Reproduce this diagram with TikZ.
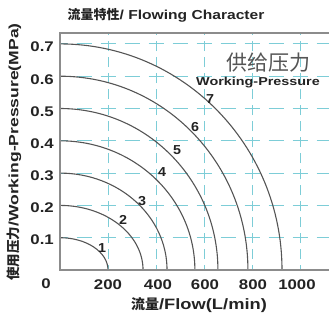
\documentclass[tikz,border=0pt]{standalone}
\usepackage{fontspec}
\setmainfont{Liberation Sans}
\newfontfamily\cjk{Noto Sans CJK SC}
\usetikzlibrary{positioning}
\definecolor{gridcyan}{RGB}{125,205,215}
\definecolor{framegray}{RGB}{140,140,140}
\definecolor{curvegray}{RGB}{85,85,85}
\definecolor{textgray}{RGB}{35,35,35}
\newcommand{\wide}[2]{\fontsize{#1}{#1}\selectfont\addfontfeature{FakeStretch=#2}}

\begin{document}
\begin{tikzpicture}[x=1pt,y=-1pt,
    grid h/.style={gridcyan,line width=0.9pt,dash pattern=on 15pt off 9pt,dash phase=7.5pt},
    grid v/.style={gridcyan,line width=0.9pt,dash pattern=on 10pt off 6pt,dash phase=5pt},
    curve line/.style={curvegray,line width=1.1pt},
    tick label/.style={text=textgray,inner sep=0pt,font=\wide{14}{1.2}\bfseries},
    curve label/.style={text=textgray,inner sep=0pt,font=\wide{13}{1.1}\bfseries}]
  \useasboundingbox (0,0) rectangle (329,322);
  % axes frame
  \coordinate (tr) at (330,33);
  \coordinate (tl) at (60,33);
  \coordinate (bl) at (60,270);
  \coordinate (br) at (330,270);
  \begin{scope}[shift={(60,270)},x=0.24pt,y=323pt]
    % grid
    \draw[grid v] (200,0) -- (200,0.734);
    \draw[grid v] (400,0) -- (400,0.734);
    \draw[grid v] (600,0) -- (600,0.734);
    \draw[grid v] (800,0) -- (800,0.734);
    \draw[grid v] (1000,0) -- (1000,0.734);
    \draw[grid h] (0,0.1) -- (1125,0.1);
    \draw[grid h] (0,0.2) -- (1125,0.2);
    \draw[grid h] (0,0.3) -- (1125,0.3);
    \draw[grid h] (0,0.4) -- (1125,0.4);
    \draw[grid h] (0,0.5) -- (1125,0.5);
    \draw[grid h] (0,0.6) -- (1125,0.6);
    \draw[grid h] (0,0.7) -- (1125,0.7);
    % flow curves
    \draw[curve line] (0,0.1) arc[start angle=90,end angle=0,x radius=200,y radius=0.1];
    \draw[curve line] (0,0.2) arc[start angle=90,end angle=0,x radius=346,y radius=0.2];
    \draw[curve line] (0,0.3) arc[start angle=90,end angle=0,x radius=446,y radius=0.3];
    \draw[curve line] (0,0.4) arc[start angle=90,end angle=0,x radius=562,y radius=0.4];
    \draw[curve line] (0,0.5) arc[start angle=90,end angle=0,x radius=658,y radius=0.5];
    \draw[curve line] (0,0.6) arc[start angle=90,end angle=0,x radius=783,y radius=0.6];
    \draw[curve line] (0,0.7) arc[start angle=90,end angle=0,x radius=925,y radius=0.7];
  \end{scope}
  \draw[framegray,line width=1.3pt] (tr) -- (tl) -- (bl) -- (br);

  \node[curve label] (c1) at (102,248) {1};
  \node[curve label] (c2) at (123,220) {2};
  \node[curve label] (c3) at (142,201) {3};
  \node[curve label] (c4) at (162,172) {4};
  \node[curve label] (c5) at (177,150) {5};
  \node[curve label] (c6) at (195,127) {6};
  \node[curve label] (c7) at (210,99) {7};

  \node[tick label,anchor=east] (y7) at (54,47) {0.7};
  \node[tick label,anchor=east] (y6) at (54,80) {0.6};
  \node[tick label,anchor=east] (y5) at (54,112) {0.5};
  \node[tick label,anchor=east] (y4) at (54,144) {0.4};
  \node[tick label,anchor=east] (y3) at (54,176) {0.3};
  \node[tick label,anchor=east] (y2) at (54,208) {0.2};
  \node[tick label,anchor=east] (y1) at (54,240) {0.1};
  \node[tick label] (y0) at (46,284) {0};
  \node[tick label] (x2) at (108,285) {200};
  \node[tick label] (x4) at (158,285) {400};
  \node[tick label] (x6) at (205,285) {600};
  \node[tick label] (x8) at (253,285) {800};
  \node[tick label] (x10) at (297,285) {1000};

  \node[text=textgray,inner sep=0pt] (title) at (166,15)
    {{\cjk\fontsize{13}{13}\selectfont\bfseries 流量特性}{\wide{13}{1.2}\bfseries / Flowing Character}};
  \node[text=textgray,inner sep=0pt] (xname) at (199,305)
    {{\cjk\fontsize{14}{14}\selectfont\bfseries 流量}{\wide{15}{1.22}\bfseries /Flow(L/min)}};
  \node[text=textgray,inner sep=0pt,rotate=90] (yname) at (14,152)
    {{\cjk\fontsize{13.5}{13.5}\selectfont\bfseries 使用压力}{\wide{13.5}{1.3}\bfseries /Working-Pressure(MPa)}};
  \node[text=curvegray,inner sep=0pt] (supply) at (268,63)
    {\cjk\fontsize{21}{21}\selectfont 供给压力};
  \node[text=textgray,inner sep=0pt] (wp) at (258,83)
    {\wide{11.5}{1.25}\bfseries Working-Pressure};
\end{tikzpicture}
\end{document}
